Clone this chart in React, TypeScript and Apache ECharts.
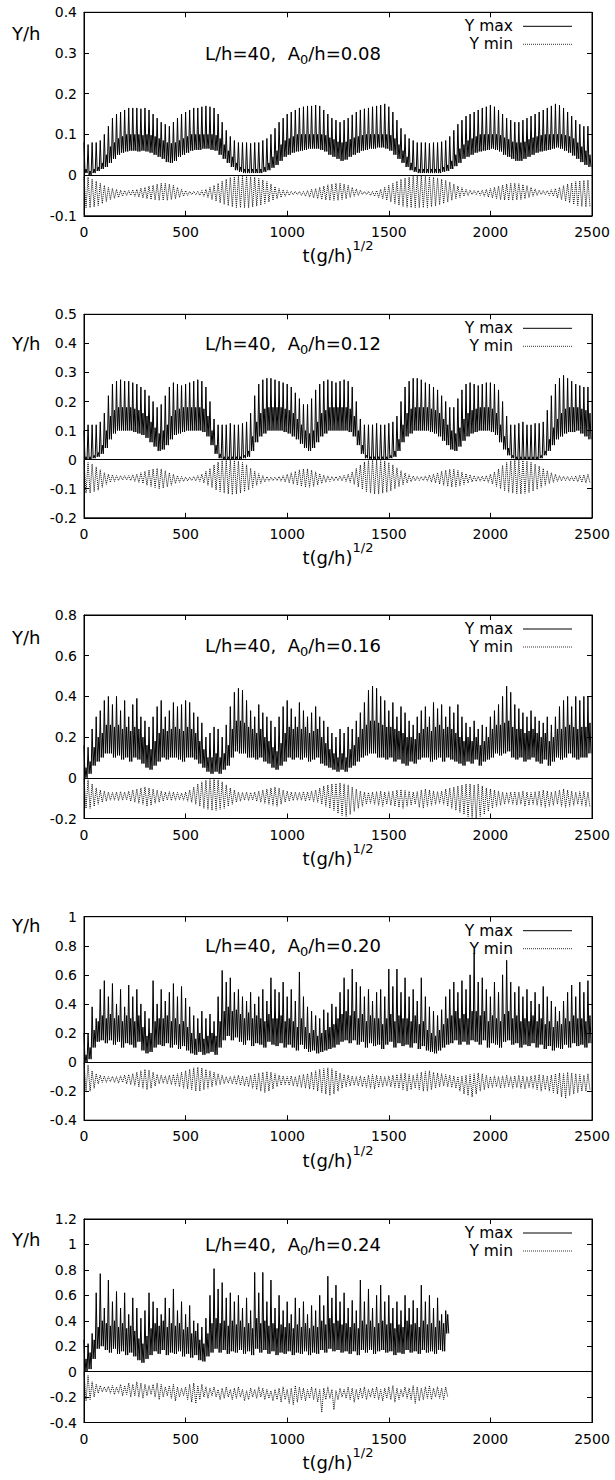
import React, { useEffect, useRef } from "react";
import * as echarts from "echarts";

const FONT = '"DejaVu Sans", "Liberation Sans", Arial, sans-serif';
const STEP = 20; // time between successive crests of a series (t units)

// ---------- Panel 1 : A0/h = 0.08 ----------
const p1MaxPeak = [
  .08,.075,.08,.08,.085,.1,.12,.14,.15,.155,
  .16,.165,.165,.165,.163,.165,.16,.15,.14,.13,
  .125,.12,.13,.14,.15,.155,.16,.165,.165,.168,
  .17,.168,.165,.15,.13,.11,.095,.085,.08,.08,
  .08,.078,.08,.08,.085,.09,.1,.115,.13,.14,
  .15,.155,.16,.165,.168,.17,.17,.172,.17,.16,
  .15,.14,.135,.13,.135,.14,.148,.155,.16,.163,
  .165,.168,.17,.172,.175,.168,.155,.135,.115,.1,
  .09,.085,.08,.08,.08,.078,.08,.08,.082,.085,
  .095,.11,.125,.135,.145,.15,.155,.16,.165,.168,
  .172,.168,.16,.15,.14,.135,.13,.13,.135,.14,
  .145,.15,.155,.16,.165,.17,.175,.172,.165,.155,
  .145,.135,.125,.12,.12,
];
const p1MaxTrough = [
  .005,0,.005,.01,.015,.02,.03,.04,.05,.055,
  .058,.06,.06,.058,.06,.058,.055,.05,.045,.04,
  .032,.03,.035,.045,.05,.055,.06,.062,.062,.065,
  .065,.062,.06,.05,.04,.03,.02,.012,.008,.005,
  .005,.005,.005,.005,.008,.012,.018,.025,.035,.045,
  .05,.055,.058,.06,.062,.065,.065,.065,.062,.058,
  .05,.045,.04,.035,.038,.045,.05,.055,.06,.062,
  .065,.065,.068,.068,.065,.06,.05,.04,.03,.02,
  .012,.008,.005,.005,.005,.005,.005,.005,.008,.01,
  .015,.022,.03,.04,.045,.05,.055,.058,.06,.062,
  .065,.062,.058,.05,.045,.04,.035,.035,.04,.045,
  .05,.055,.058,.06,.062,.065,.068,.065,.06,.055,
  .048,.04,.032,.025,.02,
];
const p1MaxBand = [
  .015,.01,.015,.02,.03,.05,.07,.08,.09,.095,
  .1,.1,.1,.1,.098,.1,.098,.095,.09,.085,
  .08,.078,.08,.085,.09,.095,.1,.1,.1,.1,
  .1,.1,.098,.09,.075,.06,.045,.03,.02,.015,
  .015,.015,.015,.015,.02,.03,.045,.06,.075,.085,
  .09,.095,.1,.1,.1,.1,.1,.1,.1,.098,
  .092,.088,.082,.08,.082,.088,.092,.095,.098,.1,
  .1,.1,.1,.1,.1,.098,.09,.075,.06,.045,
  .03,.02,.015,.015,.015,.015,.015,.015,.02,.025,
  .035,.05,.065,.075,.085,.09,.095,.1,.1,.1,
  .1,.1,.098,.092,.088,.082,.08,.08,.082,.088,
  .092,.095,.098,.1,.1,.1,.1,.1,.098,.095,
  .09,.08,.07,.06,.05,
];
const p1MinHi = [
  -.005,-.005,-.01,-.015,-.02,-.025,-.03,-.033,-.035,-.037,
  -.038,-.038,-.036,-.035,-.032,-.03,-.027,-.025,-.022,-.02,
  -.02,-.022,-.025,-.03,-.035,-.038,-.04,-.04,-.04,-.038,
  -.035,-.03,-.025,-.02,-.015,-.01,-.006,-.004,-.003,-.003,
  -.003,-.004,-.005,-.008,-.012,-.016,-.022,-.028,-.033,-.036,
  -.038,-.04,-.04,-.04,-.04,-.038,-.035,-.033,-.03,-.027,
  -.024,-.022,-.02,-.02,-.022,-.025,-.03,-.034,-.037,-.04,
  -.04,-.04,-.038,-.035,-.03,-.025,-.02,-.015,-.01,-.007,
  -.005,-.003,-.002,-.002,-.003,-.004,-.005,-.007,-.01,-.013,
  -.017,-.022,-.027,-.031,-.035,-.037,-.038,-.038,-.037,-.035,
  -.033,-.03,-.027,-.024,-.022,-.02,-.02,-.021,-.023,-.026,
  -.03,-.034,-.037,-.038,-.038,-.036,-.033,-.03,-.026,-.022,
  -.019,-.016,-.014,-.013,-.012,
];
const p1MinLo = [
  -.08,-.08,-.078,-.075,-.07,-.065,-.06,-.057,-.055,-.052,
  -.05,-.05,-.052,-.054,-.056,-.058,-.06,-.061,-.062,-.062,
  -.062,-.06,-.058,-.055,-.052,-.05,-.048,-.048,-.05,-.052,
  -.055,-.06,-.064,-.068,-.072,-.075,-.078,-.08,-.08,-.08,
  -.08,-.078,-.076,-.074,-.07,-.066,-.062,-.058,-.055,-.052,
  -.05,-.048,-.048,-.05,-.052,-.054,-.056,-.058,-.06,-.061,
  -.062,-.062,-.062,-.06,-.058,-.055,-.052,-.05,-.048,-.048,
  -.05,-.052,-.055,-.058,-.062,-.066,-.07,-.074,-.077,-.079,
  -.08,-.08,-.08,-.08,-.08,-.078,-.076,-.073,-.07,-.066,
  -.062,-.058,-.055,-.052,-.05,-.048,-.048,-.05,-.052,-.054,
  -.056,-.058,-.06,-.061,-.062,-.062,-.061,-.06,-.058,-.055,
  -.052,-.05,-.048,-.048,-.05,-.052,-.056,-.06,-.064,-.068,
  -.072,-.075,-.077,-.078,-.078,
];

// ---------- Panel 2 : A0/h = 0.12 ----------
const p2MaxPeak = [
  .1,.12,.12,.12,.13,.16,.22,.26,.27,.275,
  .27,.27,.265,.26,.25,.24,.22,.2,.18,.19,
  .22,.25,.265,.26,.255,.26,.265,.27,.275,.27,
  .25,.2,.14,.12,.12,.12,.125,.12,.12,.125,
  .13,.16,.22,.26,.275,.28,.28,.275,.27,.265,
  .26,.25,.23,.21,.19,.19,.21,.24,.26,.27,
  .275,.27,.265,.27,.275,.27,.25,.2,.14,.12,
  .12,.12,.125,.12,.12,.125,.13,.15,.2,.25,
  .27,.28,.28,.275,.265,.26,.25,.24,.22,.2,
  .18,.18,.21,.24,.26,.265,.26,.255,.26,.265,
  .265,.26,.24,.2,.15,.12,.12,.125,.13,.12,
  .12,.125,.125,.13,.17,.22,.26,.28,.29,.28,
  .27,.26,.255,.25,.25,
];
const p2MaxTrough = [
  0,0,.005,.01,.02,.04,.07,.09,.1,.1,
  .1,.1,.095,.09,.085,.075,.06,.045,.03,.035,
  .05,.07,.085,.09,.095,.1,.1,.1,.1,.095,
  .08,.05,.02,.005,0,0,0,0,0,.005,
  .01,.03,.06,.08,.09,.1,.1,.1,.1,.095,
  .09,.08,.07,.055,.04,.03,.04,.06,.08,.09,
  .1,.1,.1,.1,.1,.095,.08,.05,.02,.005,
  0,0,0,0,0,.005,.01,.03,.06,.08,
  .09,.1,.1,.1,.1,.095,.09,.08,.065,.05,
  .035,.03,.045,.065,.08,.09,.095,.1,.1,.1,
  .095,.085,.06,.035,.015,.005,0,0,0,0,
  0,0,.005,.015,.03,.05,.07,.08,.09,.095,
  .095,.1,.09,.08,.07,
];
const p2MaxBand = [
  .01,.01,.015,.025,.05,.1,.15,.17,.18,.18,
  .18,.18,.175,.17,.16,.15,.13,.11,.09,.1,
  .12,.15,.17,.175,.18,.18,.18,.18,.18,.175,
  .15,.1,.05,.02,.01,.01,.01,.01,.01,.015,
  .03,.08,.13,.16,.175,.18,.18,.18,.18,.175,
  .17,.16,.14,.12,.1,.09,.1,.13,.16,.17,
  .18,.18,.18,.18,.18,.175,.15,.1,.05,.015,
  .01,.01,.01,.01,.01,.015,.03,.07,.12,.16,
  .175,.18,.18,.18,.18,.175,.17,.16,.14,.12,
  .1,.09,.11,.14,.16,.17,.175,.18,.18,.18,
  .175,.16,.12,.08,.04,.015,.01,.01,.01,.01,
  .01,.01,.015,.03,.07,.11,.14,.16,.175,.18,
  .18,.18,.175,.17,.16,
];
const p2MinHi = [
  -.005,-.01,-.015,-.025,-.035,-.045,-.05,-.052,-.055,-.055,
  -.055,-.055,-.052,-.05,-.045,-.04,-.035,-.032,-.03,-.032,
  -.038,-.045,-.05,-.055,-.058,-.06,-.06,-.058,-.055,-.05,
  -.04,-.03,-.018,-.008,-.003,-.002,-.002,-.003,-.005,-.01,
  -.018,-.03,-.04,-.048,-.055,-.058,-.06,-.06,-.058,-.055,
  -.05,-.045,-.04,-.035,-.032,-.032,-.036,-.042,-.048,-.053,
  -.056,-.058,-.058,-.056,-.054,-.05,-.042,-.03,-.018,-.008,
  -.003,-.002,-.002,-.003,-.005,-.01,-.018,-.028,-.038,-.046,
  -.052,-.056,-.058,-.058,-.056,-.053,-.05,-.045,-.04,-.036,
  -.033,-.033,-.037,-.043,-.048,-.052,-.055,-.057,-.057,-.055,
  -.05,-.042,-.032,-.02,-.01,-.004,-.002,-.002,-.003,-.005,
  -.009,-.015,-.022,-.03,-.038,-.045,-.05,-.055,-.057,-.058,
  -.058,-.056,-.054,-.052,-.05,
];
const p2MinLo = [
  -.115,-.115,-.11,-.105,-.095,-.085,-.078,-.075,-.072,-.07,
  -.07,-.072,-.075,-.078,-.082,-.088,-.092,-.096,-.1,-.098,
  -.094,-.088,-.082,-.078,-.075,-.073,-.072,-.073,-.075,-.08,
  -.088,-.096,-.104,-.11,-.115,-.118,-.12,-.118,-.115,-.11,
  -.104,-.096,-.088,-.082,-.077,-.074,-.072,-.072,-.074,-.077,
  -.08,-.084,-.088,-.092,-.095,-.095,-.092,-.087,-.082,-.078,
  -.075,-.073,-.072,-.073,-.075,-.078,-.085,-.094,-.102,-.11,
  -.115,-.118,-.118,-.115,-.112,-.107,-.1,-.093,-.086,-.08,
  -.076,-.073,-.072,-.072,-.074,-.077,-.08,-.084,-.088,-.092,
  -.094,-.093,-.09,-.085,-.08,-.077,-.075,-.074,-.075,-.078,
  -.084,-.092,-.1,-.107,-.112,-.115,-.117,-.118,-.116,-.113,
  -.108,-.102,-.095,-.088,-.082,-.078,-.075,-.073,-.072,-.073,
  -.074,-.076,-.078,-.08,-.08,
];

// ---------- Panel 3 : A0/h = 0.16 ----------
const p3MaxPeak = [
  .16,.15,.24,.3,.33,.38,.4,.36,.4,.33,
  .38,.3,.36,.39,.3,.28,.25,.3,.35,.38,
  .3,.33,.37,.35,.36,.38,.37,.32,.3,.27,
  .2,.22,.25,.24,.2,.26,.35,.42,.44,.43,
  .38,.33,.3,.36,.32,.3,.28,.25,.3,.35,
  .38,.34,.3,.37,.33,.3,.32,.35,.3,.28,
  .25,.22,.2,.24,.22,.25,.24,.28,.32,.37,
  .43,.45,.44,.4,.38,.33,.37,.3,.35,.32,
  .28,.26,.3,.33,.35,.3,.37,.34,.36,.3,
  .35,.32,.36,.3,.27,.25,.28,.24,.26,.25,
  .3,.33,.36,.4,.45,.42,.36,.34,.32,.3,
  .33,.3,.28,.27,.3,.26,.3,.35,.38,.4,
  .35,.4,.38,.4,.4,
];
const p3MaxTrough = [
  0,.02,.06,.08,.1,.12,.12,.1,.11,.09,
  .1,.08,.1,.09,.07,.05,.04,.06,.08,.1,
  .09,.1,.1,.09,.08,.1,.1,.09,.07,.05,
  .03,.02,.03,.02,.04,.06,.1,.13,.12,.12,
  .1,.1,.09,.1,.08,.07,.05,.04,.06,.08,
  .1,.09,.1,.09,.1,.08,.09,.1,.07,.06,
  .05,.04,.03,.04,.03,.05,.06,.08,.1,.11,
  .12,.12,.1,.1,.09,.1,.08,.09,.07,.06,
  .08,.07,.09,.1,.1,.08,.09,.1,.08,.1,
  .09,.08,.07,.06,.08,.07,.09,.06,.08,.09,
  .1,.12,.11,.12,.13,.1,.09,.1,.08,.09,
  .1,.08,.07,.09,.06,.08,.1,.09,.1,.12,
  .1,.09,.1,.1,.12,
];
const p3MaxBand = [
  .05,.08,.15,.2,.22,.26,.26,.25,.26,.24,
  .25,.23,.25,.24,.2,.16,.14,.18,.22,.24,
  .23,.24,.25,.24,.23,.25,.24,.22,.18,.14,
  .1,.1,.12,.1,.12,.16,.24,.28,.28,.27,
  .25,.24,.22,.24,.2,.18,.15,.13,.17,.22,
  .25,.24,.25,.24,.25,.22,.23,.24,.2,.17,
  .14,.12,.1,.12,.1,.14,.16,.2,.24,.26,
  .28,.28,.27,.26,.25,.25,.24,.23,.22,.2,
  .2,.19,.22,.24,.25,.23,.25,.26,.24,.25,
  .24,.22,.2,.18,.2,.18,.2,.16,.18,.2,
  .24,.26,.26,.27,.28,.25,.24,.24,.22,.23,
  .24,.22,.2,.22,.18,.2,.24,.24,.25,.26,
  .25,.24,.25,.25,.27,
];
const p3MinHi = [
  -.005,-.01,-.03,-.05,-.06,-.065,-.07,-.072,-.07,-.068,
  -.07,-.066,-.06,-.055,-.05,-.045,-.05,-.055,-.06,-.065,
  -.07,-.068,-.07,-.072,-.075,-.07,-.06,-.045,-.03,-.02,
  -.012,-.008,-.005,-.01,-.02,-.035,-.05,-.06,-.07,-.072,
  -.07,-.072,-.07,-.065,-.06,-.055,-.05,-.045,-.05,-.06,
  -.065,-.07,-.07,-.072,-.068,-.07,-.065,-.06,-.05,-.04,
  -.035,-.03,-.028,-.025,-.03,-.035,-.045,-.055,-.065,-.07,
  -.072,-.07,-.068,-.065,-.07,-.068,-.065,-.06,-.058,-.062,
  -.066,-.07,-.068,-.06,-.055,-.06,-.065,-.068,-.065,-.055,
  -.05,-.045,-.04,-.035,-.03,-.03,-.035,-.03,-.04,-.05,
  -.055,-.06,-.065,-.07,-.072,-.07,-.068,-.07,-.065,-.07,
  -.072,-.068,-.065,-.06,-.065,-.07,-.065,-.06,-.055,-.06,
  -.065,-.07,-.068,-.065,-.07,
];
const p3MinLo = [
  -.15,-.15,-.14,-.13,-.12,-.115,-.11,-.11,-.112,-.11,
  -.108,-.115,-.12,-.125,-.13,-.14,-.135,-.125,-.12,-.115,
  -.11,-.112,-.11,-.108,-.11,-.115,-.12,-.13,-.14,-.15,
  -.155,-.16,-.16,-.155,-.15,-.14,-.13,-.12,-.115,-.11,
  -.112,-.11,-.115,-.12,-.125,-.13,-.135,-.14,-.13,-.12,
  -.115,-.112,-.11,-.11,-.115,-.112,-.118,-.12,-.13,-.14,
  -.15,-.16,-.175,-.185,-.19,-.18,-.165,-.15,-.14,-.13,
  -.125,-.13,-.135,-.14,-.13,-.135,-.14,-.145,-.15,-.14,
  -.135,-.13,-.145,-.15,-.14,-.135,-.13,-.125,-.13,-.14,
  -.15,-.16,-.17,-.18,-.19,-.195,-.2,-.19,-.18,-.165,
  -.15,-.14,-.135,-.13,-.125,-.13,-.135,-.13,-.14,-.135,
  -.13,-.135,-.14,-.145,-.14,-.135,-.13,-.14,-.145,-.14,
  -.135,-.13,-.135,-.14,-.145,
];

// ---------- Panel 4 : A0/h = 0.20 ----------
const p4MaxPeak = [
  .2,.2,.38,.3,.5,.56,.45,.54,.4,.5,
  .38,.53,.45,.5,.4,.35,.3,.56,.4,.5,
  .42,.48,.54,.45,.52,.44,.38,.32,.3,.35,
  .3,.33,.28,.45,.63,.55,.58,.48,.5,.45,
  .42,.48,.4,.45,.5,.42,.58,.5,.48,.55,
  .45,.5,.42,.62,.45,.38,.35,.32,.3,.36,
  .34,.4,.38,.48,.58,.5,.64,.55,.52,.45,
  .5,.42,.48,.5,.45,.64,.52,.64,.48,.58,
  .45,.5,.42,.58,.45,.38,.35,.32,.36,.45,
  .5,.55,.48,.56,.5,.6,.75,.55,.58,.5,
  .45,.55,.48,.6,.7,.55,.48,.52,.45,.5,
  .42,.48,.4,.52,.45,.42,.38,.35,.42,.48,
  .53,.45,.55,.48,.56,
];
const p4MaxTrough = [
  0,.02,.1,.14,.15,.13,.15,.12,.14,.1,
  .13,.12,.1,.14,.08,.06,.07,.1,.12,.11,
  .13,.1,.12,.09,.11,.08,.06,.05,.07,.05,
  .06,.07,.05,.1,.15,.18,.15,.17,.14,.12,
  .15,.11,.13,.12,.1,.14,.12,.11,.13,.1,
  .12,.1,.08,.12,.09,.07,.08,.06,.07,.08,
  .09,.1,.12,.14,.15,.13,.15,.12,.14,.1,
  .13,.11,.12,.09,.12,.14,.1,.13,.11,.12,
  .1,.13,.09,.11,.08,.07,.06,.08,.1,.12,
  .13,.15,.12,.14,.12,.15,.14,.12,.15,.1,
  .13,.12,.1,.14,.15,.12,.13,.1,.12,.11,
  .13,.1,.12,.09,.11,.08,.1,.09,.12,.1,
  .13,.11,.12,.1,.13,
];
const p4MaxBand = [
  .05,.1,.22,.28,.32,.3,.33,.3,.32,.28,
  .32,.3,.28,.32,.24,.18,.2,.28,.3,.3,
  .32,.28,.3,.26,.28,.24,.2,.16,.2,.16,
  .18,.2,.18,.28,.35,.38,.35,.36,.33,.3,
  .34,.3,.32,.3,.28,.33,.3,.3,.32,.28,
  .3,.28,.24,.3,.24,.2,.22,.18,.2,.22,
  .24,.26,.3,.33,.35,.32,.35,.3,.33,.28,
  .32,.3,.3,.26,.3,.33,.28,.32,.3,.3,
  .28,.32,.26,.28,.22,.2,.18,.22,.26,.3,
  .32,.35,.3,.33,.3,.35,.35,.32,.35,.28,
  .32,.3,.28,.33,.35,.3,.32,.28,.3,.28,
  .32,.28,.3,.26,.28,.24,.28,.26,.3,.28,
  .32,.3,.3,.28,.32,
];
const p4MinHi = [
  -.005,-.02,-.06,-.08,-.09,-.095,-.1,-.098,-.1,-.095,
  -.09,-.085,-.08,-.07,-.06,-.05,-.055,-.07,-.085,-.09,
  -.095,-.09,-.085,-.08,-.07,-.06,-.05,-.04,-.035,-.04,
  -.05,-.06,-.07,-.08,-.09,-.1,-.1,-.095,-.09,-.095,
  -.1,-.09,-.08,-.075,-.07,-.065,-.07,-.08,-.09,-.095,
  -.1,-.095,-.1,-.09,-.085,-.08,-.07,-.06,-.05,-.045,
  -.04,-.045,-.06,-.075,-.085,-.09,-.095,-.1,-.095,-.1,
  -.09,-.085,-.09,-.095,-.1,-.095,-.09,-.085,-.08,-.075,
  -.085,-.09,-.08,-.07,-.065,-.06,-.07,-.075,-.08,-.085,
  -.09,-.095,-.1,-.095,-.09,-.085,-.08,-.075,-.08,-.09,
  -.1,-.095,-.1,-.095,-.09,-.1,-.095,-.09,-.095,-.1,
  -.095,-.09,-.085,-.09,-.095,-.09,-.08,-.075,-.08,-.07,
  -.075,-.08,-.085,-.09,-.08,
];
const p4MinLo = [
  -.2,-.2,-.18,-.15,-.14,-.14,-.135,-.14,-.145,-.14,
  -.15,-.155,-.16,-.17,-.18,-.19,-.18,-.165,-.15,-.145,
  -.15,-.155,-.16,-.17,-.18,-.185,-.19,-.2,-.2,-.19,
  -.18,-.17,-.16,-.155,-.15,-.145,-.15,-.155,-.16,-.165,
  -.17,-.18,-.19,-.2,-.21,-.2,-.185,-.17,-.16,-.155,
  -.16,-.165,-.17,-.175,-.18,-.185,-.19,-.2,-.21,-.22,
  -.23,-.22,-.2,-.18,-.17,-.165,-.16,-.165,-.17,-.175,
  -.18,-.185,-.175,-.17,-.165,-.17,-.175,-.18,-.19,-.2,
  -.19,-.18,-.19,-.2,-.2,-.19,-.18,-.17,-.165,-.17,
  -.175,-.18,-.2,-.22,-.23,-.24,-.22,-.2,-.19,-.18,
  -.175,-.17,-.18,-.175,-.17,-.18,-.175,-.18,-.185,-.175,
  -.18,-.19,-.2,-.19,-.2,-.21,-.22,-.24,-.25,-.23,
  -.22,-.21,-.2,-.2,-.19,
];

// ---------- Panel 5 : A0/h = 0.24 (run stops near t = 1790) ----------
const p5MaxPeak = [
  .25,.22,.3,.62,.77,.5,.72,.55,.63,.5,
  .62,.45,.58,.5,.42,.48,.62,.55,.5,.45,
  .58,.5,.65,.48,.55,.45,.52,.4,.38,.35,
  .42,.6,.81,.65,.7,.58,.62,.55,.6,.5,
  .58,.48,.78,.62,.78,.55,.72,.5,.6,.48,
  .55,.45,.58,.5,.55,.45,.52,.48,.6,.52,
  .75,.58,.68,.55,.62,.5,.56,.48,.72,.55,
  .65,.5,.6,.68,.55,.6,.5,.55,.48,.6,
  .5,.56,.5,.68,.55,.6,.5,.58,.45,.48,
];
const p5MaxTrough = [
  0,.02,.1,.18,.2,.17,.15,.18,.14,.16,
  .13,.15,.12,.09,.07,.1,.13,.16,.14,.17,
  .13,.15,.14,.16,.12,.14,.11,.13,.09,.08,
  .12,.15,.18,.15,.17,.14,.16,.15,.17,.14,
  .16,.13,.18,.15,.17,.14,.16,.13,.15,.14,
  .16,.13,.15,.14,.16,.13,.15,.14,.17,.15,
  .18,.16,.17,.15,.16,.14,.16,.13,.17,.15,
  .17,.14,.16,.17,.15,.16,.13,.15,.14,.17,
  .15,.16,.14,.17,.15,.16,.14,.17,.16,.3,
];
const p5MaxBand = [
  .1,.15,.25,.35,.4,.38,.36,.4,.35,.38,
  .34,.36,.32,.26,.22,.28,.34,.38,.36,.4,
  .35,.38,.36,.38,.33,.35,.3,.32,.25,.22,
  .3,.38,.42,.38,.4,.36,.4,.37,.4,.35,
  .38,.34,.42,.38,.4,.36,.38,.34,.37,.35,
  .38,.34,.37,.35,.38,.34,.36,.35,.4,.37,
  .42,.38,.4,.37,.38,.35,.38,.34,.4,.37,
  .4,.35,.38,.4,.37,.38,.34,.37,.35,.4,
  .37,.38,.35,.4,.37,.38,.35,.4,.38,.45,
];
const p5MinHi = [
  -.005,-.03,-.08,-.1,-.11,-.12,-.115,-.11,-.12,-.1,
  -.11,-.09,-.1,-.08,-.09,-.1,-.11,-.1,-.09,-.1,
  -.12,-.11,-.1,-.12,-.13,-.12,-.1,-.09,-.11,-.1,
  -.12,-.13,-.12,-.14,-.13,-.12,-.14,-.13,-.12,-.14,
  -.15,-.13,-.14,-.12,-.13,-.14,-.15,-.14,-.13,-.12,
  -.14,-.13,-.11,-.12,-.13,-.14,-.12,-.13,-.14,-.13,
  -.12,-.14,-.15,-.13,-.14,-.12,-.13,-.14,-.13,-.12,
  -.14,-.13,-.12,-.14,-.13,-.12,-.11,-.13,-.14,-.12,
  -.13,-.11,-.12,-.13,-.12,-.11,-.13,-.12,-.13,-.12,
];
const p5MinLo = [
  -.23,-.22,-.2,-.17,-.16,-.16,-.17,-.18,-.17,-.19,
  -.18,-.2,-.19,-.2,-.21,-.19,-.18,-.2,-.22,-.2,
  -.19,-.21,-.23,-.2,-.19,-.22,-.24,-.25,-.22,-.2,
  -.21,-.19,-.2,-.22,-.21,-.2,-.22,-.21,-.2,-.23,
  -.22,-.2,-.21,-.2,-.22,-.21,-.23,-.22,-.24,-.22,
  -.25,-.26,-.24,-.22,-.23,-.21,-.22,-.24,-.32,-.22,
  -.21,-.3,-.22,-.2,-.21,-.22,-.24,-.22,-.21,-.22,
  -.2,-.21,-.22,-.23,-.21,-.22,-.24,-.22,-.2,-.21,
  -.22,-.25,-.23,-.22,-.21,-.22,-.2,-.21,-.22,-.2,
];

const xTicks = [0, 500, 1000, 1500, 2000, 2500];
const amplitudes = ["0.08", "0.12", "0.16", "0.20", "0.24"];
const yRanges = [
  { min: -0.1, max: 0.4, step: 0.1 },
  { min: -0.2, max: 0.5, step: 0.1 },
  { min: -0.2, max: 0.8, step: 0.2 },
  { min: -0.4, max: 1.0, step: 0.2 },
  { min: -0.4, max: 1.2, step: 0.2 },
];

// layout (pixels)
const PLOT_LEFT = 84;
const PLOT_W = 508;
const PLOT_H = 203.5;
const panelTops = [12.3, 314.3, 615, 916.7, 1219];
const yhOffsets = [21, 29, 22, 9, 20];
const titleOffsets = [41, 29, 30, 29, 25];

const seriesData = [
  [p1MaxPeak, p1MaxTrough, p1MaxBand, p1MinHi, p1MinLo],
  [p2MaxPeak, p2MaxTrough, p2MaxBand, p2MinHi, p2MinLo],
  [p3MaxPeak, p3MaxTrough, p3MaxBand, p3MinHi, p3MinLo],
  [p4MaxPeak, p4MaxTrough, p4MaxBand, p4MinHi, p4MinLo],
  [p5MaxPeak, p5MaxTrough, p5MaxBand, p5MinHi, p5MinLo],
];

// crest -> trough -> shoulder -> trough, one group per oscillation
function zigMax(peak: number[], trough: number[], band: number[]) {
  const out: number[][] = [];
  const q = STEP / 4;
  for (let i = 0; i < peak.length; i++) {
    const t = i * STEP;
    out.push([t, peak[i]]);
    out.push([t + q, trough[i]]);
    out.push([t + 2 * q, band[i]]);
    out.push([t + 3 * q, trough[i]]);
  }
  return out;
}
function zigMin(hi: number[], lo: number[]) {
  const out: number[][] = [];
  for (let i = 0; i < hi.length; i++) {
    out.push([i * STEP, hi[i]]);
    out.push([i * STEP + STEP / 2, lo[i]]);
  }
  return out;
}

let measureCtx: CanvasRenderingContext2D | null = null;
function measure(text: string, size: number) {
  if (!measureCtx) measureCtx = document.createElement("canvas").getContext("2d");
  measureCtx!.font = `${size}px ${FONT}`;
  return measureCtx!.measureText(text).width;
}

function txt(x: number, y: number, text: string, size: number, align = "left") {
  return {
    type: "text",
    x,
    y,
    silent: true,
    style: {
      text,
      fill: "#000",
      font: `${size}px ${FONT}`,
      textAlign: align,
      verticalAlign: "middle",
      textVerticalAlign: "middle",
    },
  };
}

export default function App() {
  const ref = useRef<HTMLDivElement>(null);
  useEffect(() => {
    document.body.style.margin = "0";
    const chart = echarts.init(ref.current!, undefined, { renderer: "svg" });

    const grids: any[] = [];
    const xAxes: any[] = [];
    const yAxes: any[] = [];
    const series: any[] = [];
    const graphics: any[] = [];

    panelTops.forEach((top, p) => {
      const r = yRanges[p];
      grids.push({
        left: PLOT_LEFT,
        top,
        width: PLOT_W,
        height: PLOT_H,
        show: true,
        borderColor: "#000",
        borderWidth: 1,
        backgroundColor: "#fff",
      });
      const axisCommon = {
        gridIndex: p,
        type: "value",
        axisLine: { show: true, onZero: false, lineStyle: { color: "#000", width: 1 } },
        axisTick: { show: true, inside: true, length: 5, lineStyle: { color: "#000" } },
        splitLine: { show: false },
      };
      xAxes.push({
        ...axisCommon,
        position: "bottom",
        min: xTicks[0],
        max: xTicks[xTicks.length - 1],
        interval: 500,
        axisLabel: {
          show: true,
          color: "#000",
          fontSize: 14,
          fontFamily: FONT,
          margin: 9,
          showMinLabel: true,
          showMaxLabel: true,
          formatter: (v: number) => String(v),
        },
      });
      xAxes.push({
        ...axisCommon,
        position: "top",
        min: xTicks[0],
        max: xTicks[xTicks.length - 1],
        interval: 500,
        axisLabel: { show: false },
      });
      yAxes.push({
        ...axisCommon,
        position: "left",
        min: r.min,
        max: r.max,
        interval: r.step,
        axisLabel: {
          show: true,
          color: "#000",
          fontSize: 14,
          fontFamily: FONT,
          margin: 7,
          showMinLabel: true,
          showMaxLabel: true,
          formatter: (v: number) => String(+v.toFixed(2)),
        },
      });
      yAxes.push({
        ...axisCommon,
        position: "right",
        min: r.min,
        max: r.max,
        interval: r.step,
        axisLabel: { show: false },
      });

      const [mp, mt, mb, nh, nl] = seriesData[p];
      series.push({
        type: "line",
        name: "Y max",
        xAxisIndex: 2 * p,
        yAxisIndex: 2 * p,
        data: zigMax(mp, mt, mb),
        symbol: "none",
        showSymbol: false,
        silent: true,
        lineStyle: { color: "#000", width: 1 },
        markLine: {
          silent: true,
          symbol: "none",
          label: { show: false },
          lineStyle: { color: "#000", type: "solid", width: 1 },
          data: [{ yAxis: 0 }],
        },
      });
      series.push({
        type: "line",
        name: "Y min",
        xAxisIndex: 2 * p,
        yAxisIndex: 2 * p,
        data: zigMin(nh, nl),
        symbol: "none",
        showSymbol: false,
        silent: true,
        lineStyle: { color: "#111", width: 1, type: "dotted" },
      });

      // Y/h label
      graphics.push(txt(12, top + yhOffsets[p], "Y/h", 18));

      // panel title with subscript
      const ty = top + titleOffsets[p];
      const tx = 205;
      const part1 = "L/h=40,  A";
      const w1 = measure(part1, 18);
      const w0 = measure("0", 13);
      graphics.push(txt(tx, ty, part1, 18));
      graphics.push(txt(tx + w1, ty + 6, "0", 13));
      graphics.push(txt(tx + w1 + w0, ty, "/h=" + amplitudes[p], 18));

      // legend
      const lx = 513;
      graphics.push(txt(lx, top + 14, "Y max", 15.5, "right"));
      graphics.push(txt(lx, top + 32, "Y min", 15.5, "right"));
      graphics.push({
        type: "line",
        silent: true,
        shape: { x1: 523, y1: top + 14, x2: 572, y2: top + 14 },
        style: { stroke: "#000", lineWidth: 1 },
      });
      graphics.push({
        type: "line",
        silent: true,
        shape: { x1: 523, y1: top + 32, x2: 572, y2: top + 32 },
        style: { stroke: "#333", lineWidth: 1, lineDash: [1, 1] },
      });

      // x-axis title t(g/h)^{1/2}
      const bottom = top + PLOT_H;
      const main = "t(g/h)";
      const sup = "1/2";
      const wm = measure(main, 18);
      const ws = measure(sup, 13);
      const cx = PLOT_LEFT + PLOT_W / 2;
      const sx = cx - (wm + ws) / 2;
      graphics.push(txt(sx, bottom + 40, main, 18));
      graphics.push(txt(sx + wm, bottom + 30, sup, 13));
    });

    chart.setOption({
      animation: false,
      backgroundColor: "#fff",
      grid: grids,
      xAxis: xAxes,
      yAxis: yAxes,
      series,
      graphic: graphics,
    });
    return () => chart.dispose();
  }, []);
  return <div ref={ref} style={{ width: 615, height: 1480 }} />;
}
